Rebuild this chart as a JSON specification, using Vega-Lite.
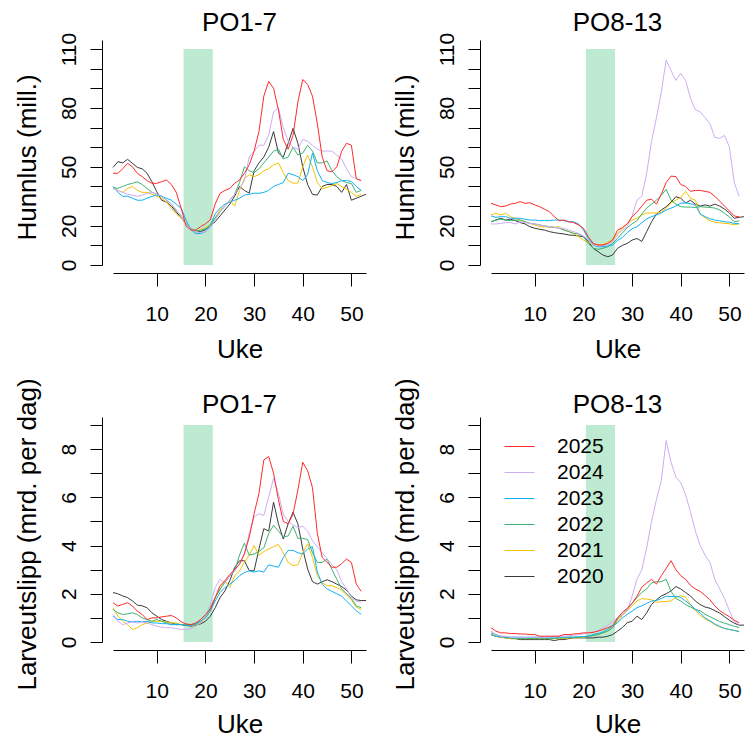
{
"$schema":"https://vega.github.io/schema/vega-lite/v6.json",
"autosize":{"type":"none"},
"padding":{"left":113,"top":40,"right":632,"bottom":698},
"background":"white",
"columns":2,
"spacing":{"row":152,"column":125},
"bounds":"flush",
"resolve":{"scale":{"color":"independent","x":"independent","y":"independent"},"legend":{"color":"independent"}},
"config":{
 "view":{"stroke":null},
 "font":"Liberation Sans",
 "axis":{"grid":false,"domainColor":"#000","tickColor":"#000","labelColor":"#000","titleColor":"#000","labelFont":"Liberation Sans","titleFont":"Liberation Sans","labelFontSize":21,"titleFontSize":26,"titleFontWeight":"normal","domainWidth":1,"tickWidth":1,"labelFlush":false,"labelOverlap":false},
 "title":{"font":"Liberation Sans","fontSize":26,"fontWeight":"normal","color":"#000","anchor":"middle","frame":"group","baseline":"alphabetic"}
},
"datasets":{
"hl":[
{"y":2020,"w":1,"v":49.7},{"y":2020,"w":2,"v":52.6},{"y":2020,"w":3,"v":52},{"y":2020,"w":4,"v":53.8},{"y":2020,"w":5,"v":51.8},{"y":2020,"w":6,"v":49.7},{"y":2020,"w":7,"v":49},{"y":2020,"w":8,"v":46.7},{"y":2020,"w":9,"v":42.4},{"y":2020,"w":10,"v":37.3},{"y":2020,"w":11,"v":33},{"y":2020,"w":12,"v":32},{"y":2020,"w":13,"v":30},{"y":2020,"w":14,"v":27},{"y":2020,"w":15,"v":24},{"y":2020,"w":16,"v":21},{"y":2020,"w":17,"v":18.5},{"y":2020,"w":18,"v":17},{"y":2020,"w":19,"v":17},{"y":2020,"w":20,"v":18},{"y":2020,"w":21,"v":20},{"y":2020,"w":22,"v":22},{"y":2020,"w":23,"v":25},{"y":2020,"w":24,"v":28},{"y":2020,"w":25,"v":31},{"y":2020,"w":26,"v":35},{"y":2020,"w":27,"v":40},{"y":2020,"w":28,"v":38},{"y":2020,"w":29,"v":36.6},{"y":2020,"w":30,"v":48},{"y":2020,"w":31,"v":52},{"y":2020,"w":32,"v":55},{"y":2020,"w":33,"v":60},{"y":2020,"w":34,"v":68},{"y":2020,"w":35,"v":57},{"y":2020,"w":36,"v":55},{"y":2020,"w":37,"v":62},{"y":2020,"w":38,"v":69.6},{"y":2020,"w":39,"v":62},{"y":2020,"w":40,"v":50},{"y":2020,"w":41,"v":41},{"y":2020,"w":42,"v":36},{"y":2020,"w":43,"v":35.6},{"y":2020,"w":44,"v":40},{"y":2020,"w":45,"v":41},{"y":2020,"w":46,"v":41},{"y":2020,"w":47,"v":40},{"y":2020,"w":48,"v":37},{"y":2020,"w":49,"v":41},{"y":2020,"w":50,"v":33},{"y":2020,"w":51,"v":34},{"y":2020,"w":52,"v":35},{"y":2020,"w":53,"v":36},
{"y":2021,"w":1,"v":39},{"y":2021,"w":2,"v":38},{"y":2021,"w":3,"v":37},{"y":2021,"w":4,"v":39},{"y":2021,"w":5,"v":40},{"y":2021,"w":6,"v":38},{"y":2021,"w":7,"v":37},{"y":2021,"w":8,"v":37},{"y":2021,"w":9,"v":36},{"y":2021,"w":10,"v":35},{"y":2021,"w":11,"v":34},{"y":2021,"w":12,"v":32},{"y":2021,"w":13,"v":29},{"y":2021,"w":14,"v":26},{"y":2021,"w":15,"v":24},{"y":2021,"w":16,"v":21},{"y":2021,"w":17,"v":18},{"y":2021,"w":18,"v":17},{"y":2021,"w":19,"v":18},{"y":2021,"w":20,"v":19},{"y":2021,"w":21,"v":21},{"y":2021,"w":22,"v":24},{"y":2021,"w":23,"v":28},{"y":2021,"w":24,"v":30},{"y":2021,"w":25,"v":33},{"y":2021,"w":26,"v":30},{"y":2021,"w":27,"v":38},{"y":2021,"w":28,"v":44},{"y":2021,"w":29,"v":46},{"y":2021,"w":30,"v":45},{"y":2021,"w":31,"v":46},{"y":2021,"w":32,"v":48},{"y":2021,"w":33,"v":49},{"y":2021,"w":34,"v":51},{"y":2021,"w":35,"v":52},{"y":2021,"w":36,"v":47},{"y":2021,"w":37,"v":43},{"y":2021,"w":38,"v":41.7},{"y":2021,"w":39,"v":41.7},{"y":2021,"w":40,"v":50},{"y":2021,"w":41,"v":56},{"y":2021,"w":42,"v":50},{"y":2021,"w":43,"v":42},{"y":2021,"w":44,"v":39},{"y":2021,"w":45,"v":39.5},{"y":2021,"w":46,"v":40.5},{"y":2021,"w":47,"v":41.5},{"y":2021,"w":48,"v":40},{"y":2021,"w":49,"v":38.5},{"y":2021,"w":50,"v":37},{"y":2021,"w":51,"v":35},{"y":2021,"w":52,"v":36},
{"y":2022,"w":1,"v":39.5},{"y":2022,"w":2,"v":39},{"y":2022,"w":3,"v":40},{"y":2022,"w":4,"v":41},{"y":2022,"w":5,"v":41.6},{"y":2022,"w":6,"v":42.4},{"y":2022,"w":7,"v":41},{"y":2022,"w":8,"v":39},{"y":2022,"w":9,"v":37},{"y":2022,"w":10,"v":36},{"y":2022,"w":11,"v":35},{"y":2022,"w":12,"v":33},{"y":2022,"w":13,"v":31},{"y":2022,"w":14,"v":28},{"y":2022,"w":15,"v":25},{"y":2022,"w":16,"v":21},{"y":2022,"w":17,"v":18.5},{"y":2022,"w":18,"v":17.5},{"y":2022,"w":19,"v":17.5},{"y":2022,"w":20,"v":18.5},{"y":2022,"w":21,"v":20},{"y":2022,"w":22,"v":24},{"y":2022,"w":23,"v":27},{"y":2022,"w":24,"v":30},{"y":2022,"w":25,"v":33},{"y":2022,"w":26,"v":36},{"y":2022,"w":27,"v":42},{"y":2022,"w":28,"v":50},{"y":2022,"w":29,"v":48},{"y":2022,"w":30,"v":47},{"y":2022,"w":31,"v":49},{"y":2022,"w":32,"v":52},{"y":2022,"w":33,"v":55},{"y":2022,"w":34,"v":58},{"y":2022,"w":35,"v":59},{"y":2022,"w":36,"v":54},{"y":2022,"w":37,"v":55},{"y":2022,"w":38,"v":60},{"y":2022,"w":39,"v":56},{"y":2022,"w":40,"v":57},{"y":2022,"w":41,"v":61},{"y":2022,"w":42,"v":58},{"y":2022,"w":43,"v":52},{"y":2022,"w":44,"v":52},{"y":2022,"w":45,"v":53},{"y":2022,"w":46,"v":48},{"y":2022,"w":47,"v":45},{"y":2022,"w":48,"v":43},{"y":2022,"w":49,"v":42},{"y":2022,"w":50,"v":41.5},{"y":2022,"w":51,"v":37},{"y":2022,"w":52,"v":38},
{"y":2023,"w":1,"v":40},{"y":2023,"w":2,"v":37},{"y":2023,"w":3,"v":35},{"y":2023,"w":4,"v":35},{"y":2023,"w":5,"v":34},{"y":2023,"w":6,"v":33},{"y":2023,"w":7,"v":33},{"y":2023,"w":8,"v":34},{"y":2023,"w":9,"v":35},{"y":2023,"w":10,"v":35.6},{"y":2023,"w":11,"v":35},{"y":2023,"w":12,"v":34},{"y":2023,"w":13,"v":33},{"y":2023,"w":14,"v":31},{"y":2023,"w":15,"v":29},{"y":2023,"w":16,"v":23},{"y":2023,"w":17,"v":18},{"y":2023,"w":18,"v":16},{"y":2023,"w":19,"v":16},{"y":2023,"w":20,"v":17},{"y":2023,"w":21,"v":20},{"y":2023,"w":22,"v":26},{"y":2023,"w":23,"v":29},{"y":2023,"w":24,"v":31},{"y":2023,"w":25,"v":32},{"y":2023,"w":26,"v":33},{"y":2023,"w":27,"v":34},{"y":2023,"w":28,"v":35.6},{"y":2023,"w":29,"v":36},{"y":2023,"w":30,"v":36.6},{"y":2023,"w":31,"v":36.5},{"y":2023,"w":32,"v":37},{"y":2023,"w":33,"v":38},{"y":2023,"w":34,"v":40},{"y":2023,"w":35,"v":41},{"y":2023,"w":36,"v":42},{"y":2023,"w":37,"v":46.7},{"y":2023,"w":38,"v":46},{"y":2023,"w":39,"v":45},{"y":2023,"w":40,"v":43},{"y":2023,"w":41,"v":46},{"y":2023,"w":42,"v":57},{"y":2023,"w":43,"v":48},{"y":2023,"w":44,"v":43},{"y":2023,"w":45,"v":42},{"y":2023,"w":46,"v":41.5},{"y":2023,"w":47,"v":42},{"y":2023,"w":48,"v":43},{"y":2023,"w":49,"v":43},{"y":2023,"w":50,"v":42.5},{"y":2023,"w":51,"v":40},{"y":2023,"w":52,"v":38},
{"y":2024,"w":1,"v":39},{"y":2024,"w":2,"v":38},{"y":2024,"w":3,"v":37},{"y":2024,"w":4,"v":36},{"y":2024,"w":5,"v":35.5},{"y":2024,"w":6,"v":35},{"y":2024,"w":7,"v":35.5},{"y":2024,"w":8,"v":36.5},{"y":2024,"w":9,"v":37},{"y":2024,"w":10,"v":36},{"y":2024,"w":11,"v":35},{"y":2024,"w":12,"v":33},{"y":2024,"w":13,"v":31},{"y":2024,"w":14,"v":28},{"y":2024,"w":15,"v":25},{"y":2024,"w":16,"v":21},{"y":2024,"w":17,"v":18.5},{"y":2024,"w":18,"v":17},{"y":2024,"w":19,"v":16.5},{"y":2024,"w":20,"v":17},{"y":2024,"w":21,"v":19},{"y":2024,"w":22,"v":23},{"y":2024,"w":23,"v":27},{"y":2024,"w":24,"v":30},{"y":2024,"w":25,"v":33},{"y":2024,"w":26,"v":36},{"y":2024,"w":27,"v":39},{"y":2024,"w":28,"v":43},{"y":2024,"w":29,"v":55},{"y":2024,"w":30,"v":58},{"y":2024,"w":31,"v":61},{"y":2024,"w":32,"v":61},{"y":2024,"w":33,"v":66},{"y":2024,"w":34,"v":78},{"y":2024,"w":35,"v":80},{"y":2024,"w":36,"v":70},{"y":2024,"w":37,"v":63},{"y":2024,"w":38,"v":60},{"y":2024,"w":39,"v":59},{"y":2024,"w":40,"v":64},{"y":2024,"w":41,"v":63},{"y":2024,"w":42,"v":61},{"y":2024,"w":43,"v":59},{"y":2024,"w":44,"v":58},{"y":2024,"w":45,"v":58},{"y":2024,"w":46,"v":58},{"y":2024,"w":47,"v":56},{"y":2024,"w":48,"v":54},{"y":2024,"w":49,"v":49},{"y":2024,"w":50,"v":45},{"y":2024,"w":51,"v":44},{"y":2024,"w":52,"v":43},
{"y":2025,"w":1,"v":46.7},{"y":2025,"w":2,"v":46.7},{"y":2025,"w":3,"v":49},{"y":2025,"w":4,"v":51.8},{"y":2025,"w":5,"v":50},{"y":2025,"w":6,"v":46.7},{"y":2025,"w":7,"v":45},{"y":2025,"w":8,"v":43},{"y":2025,"w":9,"v":41.6},{"y":2025,"w":10,"v":41.6},{"y":2025,"w":11,"v":42.4},{"y":2025,"w":12,"v":43.3},{"y":2025,"w":13,"v":41},{"y":2025,"w":14,"v":37},{"y":2025,"w":15,"v":29},{"y":2025,"w":16,"v":20},{"y":2025,"w":17,"v":17.8},{"y":2025,"w":18,"v":17.8},{"y":2025,"w":19,"v":19.5},{"y":2025,"w":20,"v":21},{"y":2025,"w":21,"v":23},{"y":2025,"w":22,"v":31},{"y":2025,"w":23,"v":36.5},{"y":2025,"w":24,"v":38},{"y":2025,"w":25,"v":39},{"y":2025,"w":26,"v":41.6},{"y":2025,"w":27,"v":43.3},{"y":2025,"w":28,"v":46.7},{"y":2025,"w":29,"v":51},{"y":2025,"w":30,"v":58},{"y":2025,"w":31,"v":68},{"y":2025,"w":32,"v":86},{"y":2025,"w":33,"v":93.5},{"y":2025,"w":34,"v":90},{"y":2025,"w":35,"v":79},{"y":2025,"w":36,"v":64},{"y":2025,"w":37,"v":59},{"y":2025,"w":38,"v":66},{"y":2025,"w":39,"v":83},{"y":2025,"w":40,"v":94.5},{"y":2025,"w":41,"v":92},{"y":2025,"w":42,"v":86},{"y":2025,"w":43,"v":72},{"y":2025,"w":44,"v":55},{"y":2025,"w":45,"v":48},{"y":2025,"w":46,"v":47.5},{"y":2025,"w":47,"v":50},{"y":2025,"w":48,"v":58},{"y":2025,"w":49,"v":62},{"y":2025,"w":50,"v":61},{"y":2025,"w":51,"v":44},{"y":2025,"w":52,"v":43}
],
"hr":[
{"y":2020,"w":1,"v":22},{"y":2020,"w":2,"v":22.9},{"y":2020,"w":3,"v":23.8},{"y":2020,"w":4,"v":22.9},{"y":2020,"w":5,"v":23.3},{"y":2020,"w":6,"v":22.6},{"y":2020,"w":7,"v":21.6},{"y":2020,"w":8,"v":20.9},{"y":2020,"w":9,"v":19.5},{"y":2020,"w":10,"v":18.7},{"y":2020,"w":11,"v":18.2},{"y":2020,"w":12,"v":17.8},{"y":2020,"w":13,"v":17},{"y":2020,"w":14,"v":16.5},{"y":2020,"w":15,"v":16.1},{"y":2020,"w":16,"v":15.8},{"y":2020,"w":17,"v":15.3},{"y":2020,"w":18,"v":15.1},{"y":2020,"w":19,"v":14.8},{"y":2020,"w":20,"v":14.4},{"y":2020,"w":21,"v":11.9},{"y":2020,"w":22,"v":8.5},{"y":2020,"w":23,"v":6.8},{"y":2020,"w":24,"v":5.1},{"y":2020,"w":25,"v":4.2},{"y":2020,"w":26,"v":5.1},{"y":2020,"w":27,"v":8.5},{"y":2020,"w":28,"v":10},{"y":2020,"w":29,"v":11},{"y":2020,"w":30,"v":12.7},{"y":2020,"w":31,"v":13.5},{"y":2020,"w":32,"v":12},{"y":2020,"w":33,"v":17},{"y":2020,"w":34,"v":22},{"y":2020,"w":35,"v":26},{"y":2020,"w":36,"v":28},{"y":2020,"w":37,"v":29.7},{"y":2020,"w":38,"v":32},{"y":2020,"w":39,"v":34.8},{"y":2020,"w":40,"v":34},{"y":2020,"w":41,"v":31.6},{"y":2020,"w":42,"v":33},{"y":2020,"w":43,"v":31},{"y":2020,"w":44,"v":30},{"y":2020,"w":45,"v":30.6},{"y":2020,"w":46,"v":30},{"y":2020,"w":47,"v":31},{"y":2020,"w":48,"v":30},{"y":2020,"w":49,"v":28.5},{"y":2020,"w":50,"v":26.5},{"y":2020,"w":51,"v":23.8},{"y":2020,"w":52,"v":24.3},{"y":2020,"w":53,"v":24.6},
{"y":2021,"w":1,"v":25.5},{"y":2021,"w":2,"v":26.3},{"y":2021,"w":3,"v":25.5},{"y":2021,"w":4,"v":26.3},{"y":2021,"w":5,"v":24.6},{"y":2021,"w":6,"v":23.8},{"y":2021,"w":7,"v":22.9},{"y":2021,"w":8,"v":22},{"y":2021,"w":9,"v":21.2},{"y":2021,"w":10,"v":20.4},{"y":2021,"w":11,"v":19.5},{"y":2021,"w":12,"v":19.5},{"y":2021,"w":13,"v":19.2},{"y":2021,"w":14,"v":19.2},{"y":2021,"w":15,"v":19.5},{"y":2021,"w":16,"v":17.8},{"y":2021,"w":17,"v":17},{"y":2021,"w":18,"v":16.1},{"y":2021,"w":19,"v":14.4},{"y":2021,"w":20,"v":12.7},{"y":2021,"w":21,"v":11.4},{"y":2021,"w":22,"v":10.7},{"y":2021,"w":23,"v":10.2},{"y":2021,"w":24,"v":10.5},{"y":2021,"w":25,"v":11.4},{"y":2021,"w":26,"v":13.1},{"y":2021,"w":27,"v":16.1},{"y":2021,"w":28,"v":18.7},{"y":2021,"w":29,"v":20.9},{"y":2021,"w":30,"v":22.9},{"y":2021,"w":31,"v":23.8},{"y":2021,"w":32,"v":25.5},{"y":2021,"w":33,"v":26.5},{"y":2021,"w":34,"v":26.5},{"y":2021,"w":35,"v":26.5},{"y":2021,"w":36,"v":27},{"y":2021,"w":37,"v":28.9},{"y":2021,"w":38,"v":31.6},{"y":2021,"w":39,"v":33},{"y":2021,"w":40,"v":34.5},{"y":2021,"w":41,"v":37.5},{"y":2021,"w":42,"v":34},{"y":2021,"w":43,"v":33},{"y":2021,"w":44,"v":26},{"y":2021,"w":45,"v":24},{"y":2021,"w":46,"v":22.5},{"y":2021,"w":47,"v":21.8},{"y":2021,"w":48,"v":21.5},{"y":2021,"w":49,"v":21.2},{"y":2021,"w":50,"v":21},{"y":2021,"w":51,"v":20.5},{"y":2021,"w":52,"v":21},
{"y":2022,"w":1,"v":22},{"y":2022,"w":2,"v":22.9},{"y":2022,"w":3,"v":23.3},{"y":2022,"w":4,"v":22.9},{"y":2022,"w":5,"v":22.6},{"y":2022,"w":6,"v":22.9},{"y":2022,"w":7,"v":22.9},{"y":2022,"w":8,"v":22},{"y":2022,"w":9,"v":21.2},{"y":2022,"w":10,"v":20.9},{"y":2022,"w":11,"v":20.4},{"y":2022,"w":12,"v":19.9},{"y":2022,"w":13,"v":19.5},{"y":2022,"w":14,"v":19.2},{"y":2022,"w":15,"v":18.7},{"y":2022,"w":16,"v":17.8},{"y":2022,"w":17,"v":17},{"y":2022,"w":18,"v":16.1},{"y":2022,"w":19,"v":15.8},{"y":2022,"w":20,"v":14.4},{"y":2022,"w":21,"v":11},{"y":2022,"w":22,"v":8.5},{"y":2022,"w":23,"v":8},{"y":2022,"w":24,"v":8.5},{"y":2022,"w":25,"v":9.3},{"y":2022,"w":26,"v":11},{"y":2022,"w":27,"v":13.6},{"y":2022,"w":28,"v":16.3},{"y":2022,"w":29,"v":19},{"y":2022,"w":30,"v":21},{"y":2022,"w":31,"v":22.5},{"y":2022,"w":32,"v":26},{"y":2022,"w":33,"v":29},{"y":2022,"w":34,"v":31},{"y":2022,"w":35,"v":33},{"y":2022,"w":36,"v":35.5},{"y":2022,"w":37,"v":38.5},{"y":2022,"w":38,"v":33},{"y":2022,"w":39,"v":31},{"y":2022,"w":40,"v":29.7},{"y":2022,"w":41,"v":29.5},{"y":2022,"w":42,"v":29.5},{"y":2022,"w":43,"v":29.3},{"y":2022,"w":44,"v":29.7},{"y":2022,"w":45,"v":29.5},{"y":2022,"w":46,"v":29.3},{"y":2022,"w":47,"v":29},{"y":2022,"w":48,"v":28},{"y":2022,"w":49,"v":26.3},{"y":2022,"w":50,"v":24.5},{"y":2022,"w":51,"v":22},{"y":2022,"w":52,"v":22.5},
{"y":2023,"w":1,"v":25},{"y":2023,"w":2,"v":24.3},{"y":2023,"w":3,"v":24.6},{"y":2023,"w":4,"v":24.6},{"y":2023,"w":5,"v":23.8},{"y":2023,"w":6,"v":23.8},{"y":2023,"w":7,"v":23.8},{"y":2023,"w":8,"v":23.3},{"y":2023,"w":9,"v":22.9},{"y":2023,"w":10,"v":22.9},{"y":2023,"w":11,"v":22.6},{"y":2023,"w":12,"v":22.6},{"y":2023,"w":13,"v":22.6},{"y":2023,"w":14,"v":22.9},{"y":2023,"w":15,"v":22.9},{"y":2023,"w":16,"v":22.6},{"y":2023,"w":17,"v":22},{"y":2023,"w":18,"v":22},{"y":2023,"w":19,"v":20.9},{"y":2023,"w":20,"v":17.8},{"y":2023,"w":21,"v":13.6},{"y":2023,"w":22,"v":10.2},{"y":2023,"w":23,"v":9.3},{"y":2023,"w":24,"v":9.3},{"y":2023,"w":25,"v":9.7},{"y":2023,"w":26,"v":10.2},{"y":2023,"w":27,"v":12.5},{"y":2023,"w":28,"v":14},{"y":2023,"w":29,"v":16.5},{"y":2023,"w":30,"v":18.5},{"y":2023,"w":31,"v":19.5},{"y":2023,"w":32,"v":21.5},{"y":2023,"w":33,"v":23.5},{"y":2023,"w":34,"v":24.6},{"y":2023,"w":35,"v":25.5},{"y":2023,"w":36,"v":26.5},{"y":2023,"w":37,"v":28},{"y":2023,"w":38,"v":29},{"y":2023,"w":39,"v":30},{"y":2023,"w":40,"v":31.5},{"y":2023,"w":41,"v":31.6},{"y":2023,"w":42,"v":31.2},{"y":2023,"w":43,"v":30.5},{"y":2023,"w":44,"v":26},{"y":2023,"w":45,"v":24.6},{"y":2023,"w":46,"v":23.5},{"y":2023,"w":47,"v":22.9},{"y":2023,"w":48,"v":22.5},{"y":2023,"w":49,"v":22},{"y":2023,"w":50,"v":21.8},{"y":2023,"w":51,"v":21.2},{"y":2023,"w":52,"v":21},
{"y":2024,"w":1,"v":20.9},{"y":2024,"w":2,"v":20.9},{"y":2024,"w":3,"v":21.2},{"y":2024,"w":4,"v":21.6},{"y":2024,"w":5,"v":21.6},{"y":2024,"w":6,"v":20.9},{"y":2024,"w":7,"v":22},{"y":2024,"w":8,"v":21.6},{"y":2024,"w":9,"v":21.2},{"y":2024,"w":10,"v":20.9},{"y":2024,"w":11,"v":20.4},{"y":2024,"w":12,"v":19.9},{"y":2024,"w":13,"v":19.5},{"y":2024,"w":14,"v":19.2},{"y":2024,"w":15,"v":18.7},{"y":2024,"w":16,"v":18.7},{"y":2024,"w":17,"v":17.8},{"y":2024,"w":18,"v":17},{"y":2024,"w":19,"v":16.1},{"y":2024,"w":20,"v":14.8},{"y":2024,"w":21,"v":12.7},{"y":2024,"w":22,"v":10.2},{"y":2024,"w":23,"v":9.7},{"y":2024,"w":24,"v":9.9},{"y":2024,"w":25,"v":10.2},{"y":2024,"w":26,"v":11.9},{"y":2024,"w":27,"v":15.3},{"y":2024,"w":28,"v":17.8},{"y":2024,"w":29,"v":19.5},{"y":2024,"w":30,"v":25},{"y":2024,"w":31,"v":33},{"y":2024,"w":32,"v":35},{"y":2024,"w":33,"v":46.8},{"y":2024,"w":34,"v":63},{"y":2024,"w":35,"v":75},{"y":2024,"w":36,"v":88},{"y":2024,"w":37,"v":104.4},{"y":2024,"w":38,"v":99},{"y":2024,"w":39,"v":94},{"y":2024,"w":40,"v":97.6},{"y":2024,"w":41,"v":94},{"y":2024,"w":42,"v":85},{"y":2024,"w":43,"v":79},{"y":2024,"w":44,"v":78},{"y":2024,"w":45,"v":75},{"y":2024,"w":46,"v":72},{"y":2024,"w":47,"v":65},{"y":2024,"w":48,"v":64.5},{"y":2024,"w":49,"v":66},{"y":2024,"w":50,"v":60},{"y":2024,"w":51,"v":42},{"y":2024,"w":52,"v":35},
{"y":2025,"w":1,"v":31.4},{"y":2025,"w":2,"v":30.6},{"y":2025,"w":3,"v":29.7},{"y":2025,"w":4,"v":30},{"y":2025,"w":5,"v":31},{"y":2025,"w":6,"v":31.4},{"y":2025,"w":7,"v":32.3},{"y":2025,"w":8,"v":31.4},{"y":2025,"w":9,"v":31.7},{"y":2025,"w":10,"v":30.6},{"y":2025,"w":11,"v":29.7},{"y":2025,"w":12,"v":28.4},{"y":2025,"w":13,"v":27.2},{"y":2025,"w":14,"v":24.6},{"y":2025,"w":15,"v":22.6},{"y":2025,"w":16,"v":22.9},{"y":2025,"w":17,"v":22},{"y":2025,"w":18,"v":21.6},{"y":2025,"w":19,"v":20.4},{"y":2025,"w":20,"v":18.7},{"y":2025,"w":21,"v":14.4},{"y":2025,"w":22,"v":11},{"y":2025,"w":23,"v":10.2},{"y":2025,"w":24,"v":10.2},{"y":2025,"w":25,"v":11},{"y":2025,"w":26,"v":12.7},{"y":2025,"w":27,"v":17.8},{"y":2025,"w":28,"v":19},{"y":2025,"w":29,"v":21},{"y":2025,"w":30,"v":24.6},{"y":2025,"w":31,"v":27},{"y":2025,"w":32,"v":30},{"y":2025,"w":33,"v":33},{"y":2025,"w":34,"v":33.5},{"y":2025,"w":35,"v":31},{"y":2025,"w":36,"v":36},{"y":2025,"w":37,"v":42},{"y":2025,"w":38,"v":45.3},{"y":2025,"w":39,"v":45},{"y":2025,"w":40,"v":41},{"y":2025,"w":41,"v":40},{"y":2025,"w":42,"v":37.5},{"y":2025,"w":43,"v":38},{"y":2025,"w":44,"v":38},{"y":2025,"w":45,"v":37.5},{"y":2025,"w":46,"v":37},{"y":2025,"w":47,"v":35},{"y":2025,"w":48,"v":32.5},{"y":2025,"w":49,"v":30},{"y":2025,"w":50,"v":27.5},{"y":2025,"w":51,"v":25},{"y":2025,"w":52,"v":24.5}
],
"ll":[
{"y":2020,"w":1,"v":2.05},{"y":2020,"w":2,"v":2.0},{"y":2020,"w":3,"v":1.91},{"y":2020,"w":4,"v":1.84},{"y":2020,"w":5,"v":1.7},{"y":2020,"w":6,"v":1.53},{"y":2020,"w":7,"v":1.5},{"y":2020,"w":8,"v":1.42},{"y":2020,"w":9,"v":1.21},{"y":2020,"w":10,"v":1.07},{"y":2020,"w":11,"v":0.93},{"y":2020,"w":12,"v":0.86},{"y":2020,"w":13,"v":0.79},{"y":2020,"w":14,"v":0.72},{"y":2020,"w":15,"v":0.72},{"y":2020,"w":16,"v":0.69},{"y":2020,"w":17,"v":0.66},{"y":2020,"w":18,"v":0.69},{"y":2020,"w":19,"v":0.75},{"y":2020,"w":20,"v":0.86},{"y":2020,"w":21,"v":1.07},{"y":2020,"w":22,"v":1.42},{"y":2020,"w":23,"v":1.84},{"y":2020,"w":24,"v":2.12},{"y":2020,"w":25,"v":2.54},{"y":2020,"w":26,"v":3.09},{"y":2020,"w":27,"v":3.37},{"y":2020,"w":28,"v":3.37},{"y":2020,"w":29,"v":2.96},{"y":2020,"w":30,"v":2.95},{"y":2020,"w":31,"v":3.86},{"y":2020,"w":32,"v":4.7},{"y":2020,"w":33,"v":4.6},{"y":2020,"w":34,"v":5.8},{"y":2020,"w":35,"v":4.9},{"y":2020,"w":36,"v":4.27},{"y":2020,"w":37,"v":4.9},{"y":2020,"w":38,"v":5.38},{"y":2020,"w":39,"v":4.9},{"y":2020,"w":40,"v":3.86},{"y":2020,"w":41,"v":3.03},{"y":2020,"w":42,"v":2.5},{"y":2020,"w":43,"v":2.4},{"y":2020,"w":44,"v":2.5},{"y":2020,"w":45,"v":2.58},{"y":2020,"w":46,"v":2.5},{"y":2020,"w":47,"v":2.4},{"y":2020,"w":48,"v":2.3},{"y":2020,"w":49,"v":2.15},{"y":2020,"w":50,"v":1.9},{"y":2020,"w":51,"v":1.75},{"y":2020,"w":52,"v":1.72},{"y":2020,"w":53,"v":1.72},
{"y":2021,"w":1,"v":1.42},{"y":2021,"w":2,"v":1.07},{"y":2021,"w":3,"v":0.86},{"y":2021,"w":4,"v":0.72},{"y":2021,"w":5,"v":0.52},{"y":2021,"w":6,"v":0.59},{"y":2021,"w":7,"v":0.72},{"y":2021,"w":8,"v":0.79},{"y":2021,"w":9,"v":0.86},{"y":2021,"w":10,"v":0.86},{"y":2021,"w":11,"v":0.86},{"y":2021,"w":12,"v":0.83},{"y":2021,"w":13,"v":0.79},{"y":2021,"w":14,"v":0.79},{"y":2021,"w":15,"v":0.72},{"y":2021,"w":16,"v":0.72},{"y":2021,"w":17,"v":0.7},{"y":2021,"w":18,"v":0.66},{"y":2021,"w":19,"v":0.79},{"y":2021,"w":20,"v":1.0},{"y":2021,"w":21,"v":1.28},{"y":2021,"w":22,"v":1.84},{"y":2021,"w":23,"v":2.19},{"y":2021,"w":24,"v":2.54},{"y":2021,"w":25,"v":2.26},{"y":2021,"w":26,"v":2.75},{"y":2021,"w":27,"v":2.95},{"y":2021,"w":28,"v":3.3},{"y":2021,"w":29,"v":3.6},{"y":2021,"w":30,"v":4.0},{"y":2021,"w":31,"v":3.6},{"y":2021,"w":32,"v":3.75},{"y":2021,"w":33,"v":3.86},{"y":2021,"w":34,"v":3.95},{"y":2021,"w":35,"v":4.05},{"y":2021,"w":36,"v":3.7},{"y":2021,"w":37,"v":3.3},{"y":2021,"w":38,"v":3.17},{"y":2021,"w":39,"v":3.2},{"y":2021,"w":40,"v":3.7},{"y":2021,"w":41,"v":4.07},{"y":2021,"w":42,"v":3.5},{"y":2021,"w":43,"v":2.75},{"y":2021,"w":44,"v":2.45},{"y":2021,"w":45,"v":2.34},{"y":2021,"w":46,"v":2.33},{"y":2021,"w":47,"v":2.26},{"y":2021,"w":48,"v":2.15},{"y":2021,"w":49,"v":1.95},{"y":2021,"w":50,"v":1.75},{"y":2021,"w":51,"v":1.45},{"y":2021,"w":52,"v":1.35},
{"y":2022,"w":1,"v":1.35},{"y":2022,"w":2,"v":1.21},{"y":2022,"w":3,"v":1.14},{"y":2022,"w":4,"v":1.17},{"y":2022,"w":5,"v":1.21},{"y":2022,"w":6,"v":1.14},{"y":2022,"w":7,"v":1.0},{"y":2022,"w":8,"v":0.93},{"y":2022,"w":9,"v":0.86},{"y":2022,"w":10,"v":0.93},{"y":2022,"w":11,"v":0.86},{"y":2022,"w":12,"v":0.79},{"y":2022,"w":13,"v":0.72},{"y":2022,"w":14,"v":0.75},{"y":2022,"w":15,"v":0.72},{"y":2022,"w":16,"v":0.72},{"y":2022,"w":17,"v":0.7},{"y":2022,"w":18,"v":0.72},{"y":2022,"w":19,"v":0.86},{"y":2022,"w":20,"v":1.07},{"y":2022,"w":21,"v":1.42},{"y":2022,"w":22,"v":1.84},{"y":2022,"w":23,"v":2.19},{"y":2022,"w":24,"v":2.47},{"y":2022,"w":25,"v":2.75},{"y":2022,"w":26,"v":2.95},{"y":2022,"w":27,"v":3.6},{"y":2022,"w":28,"v":4.1},{"y":2022,"w":29,"v":3.6},{"y":2022,"w":30,"v":3.65},{"y":2022,"w":31,"v":3.75},{"y":2022,"w":32,"v":3.9},{"y":2022,"w":33,"v":4.5},{"y":2022,"w":34,"v":4.84},{"y":2022,"w":35,"v":4.6},{"y":2022,"w":36,"v":4.35},{"y":2022,"w":37,"v":4.4},{"y":2022,"w":38,"v":4.8},{"y":2022,"w":39,"v":4.3},{"y":2022,"w":40,"v":4.3},{"y":2022,"w":41,"v":4.25},{"y":2022,"w":42,"v":3.7},{"y":2022,"w":43,"v":3.3},{"y":2022,"w":44,"v":3.3},{"y":2022,"w":45,"v":3.44},{"y":2022,"w":46,"v":3.0},{"y":2022,"w":47,"v":2.6},{"y":2022,"w":48,"v":2.2},{"y":2022,"w":49,"v":2.0},{"y":2022,"w":50,"v":1.8},{"y":2022,"w":51,"v":1.5},{"y":2022,"w":52,"v":1.42},
{"y":2023,"w":1,"v":1.07},{"y":2023,"w":2,"v":0.93},{"y":2023,"w":3,"v":0.93},{"y":2023,"w":4,"v":0.86},{"y":2023,"w":5,"v":0.83},{"y":2023,"w":6,"v":0.86},{"y":2023,"w":7,"v":0.83},{"y":2023,"w":8,"v":0.86},{"y":2023,"w":9,"v":0.79},{"y":2023,"w":10,"v":0.79},{"y":2023,"w":11,"v":0.76},{"y":2023,"w":12,"v":0.76},{"y":2023,"w":13,"v":0.72},{"y":2023,"w":14,"v":0.72},{"y":2023,"w":15,"v":0.72},{"y":2023,"w":16,"v":0.69},{"y":2023,"w":17,"v":0.69},{"y":2023,"w":18,"v":0.76},{"y":2023,"w":19,"v":0.86},{"y":2023,"w":20,"v":1.0},{"y":2023,"w":21,"v":1.28},{"y":2023,"w":22,"v":1.7},{"y":2023,"w":23,"v":2.05},{"y":2023,"w":24,"v":2.26},{"y":2023,"w":25,"v":2.4},{"y":2023,"w":26,"v":2.54},{"y":2023,"w":27,"v":2.75},{"y":2023,"w":28,"v":2.88},{"y":2023,"w":29,"v":2.95},{"y":2023,"w":30,"v":2.9},{"y":2023,"w":31,"v":2.95},{"y":2023,"w":32,"v":2.9},{"y":2023,"w":33,"v":3.2},{"y":2023,"w":34,"v":3.15},{"y":2023,"w":35,"v":3.1},{"y":2023,"w":36,"v":3.5},{"y":2023,"w":37,"v":3.8},{"y":2023,"w":38,"v":3.8},{"y":2023,"w":39,"v":3.7},{"y":2023,"w":40,"v":3.65},{"y":2023,"w":41,"v":3.86},{"y":2023,"w":42,"v":3.95},{"y":2023,"w":43,"v":2.9},{"y":2023,"w":44,"v":2.4},{"y":2023,"w":45,"v":2.2},{"y":2023,"w":46,"v":2.1},{"y":2023,"w":47,"v":2.0},{"y":2023,"w":48,"v":1.9},{"y":2023,"w":49,"v":1.7},{"y":2023,"w":50,"v":1.5},{"y":2023,"w":51,"v":1.3},{"y":2023,"w":52,"v":1.15},
{"y":2024,"w":1,"v":1.14},{"y":2024,"w":2,"v":0.86},{"y":2024,"w":3,"v":0.72},{"y":2024,"w":4,"v":0.79},{"y":2024,"w":5,"v":0.83},{"y":2024,"w":6,"v":0.79},{"y":2024,"w":7,"v":0.83},{"y":2024,"w":8,"v":0.79},{"y":2024,"w":9,"v":0.72},{"y":2024,"w":10,"v":0.66},{"y":2024,"w":11,"v":0.62},{"y":2024,"w":12,"v":0.59},{"y":2024,"w":13,"v":0.59},{"y":2024,"w":14,"v":0.56},{"y":2024,"w":15,"v":0.52},{"y":2024,"w":16,"v":0.52},{"y":2024,"w":17,"v":0.55},{"y":2024,"w":18,"v":0.66},{"y":2024,"w":19,"v":0.79},{"y":2024,"w":20,"v":1.07},{"y":2024,"w":21,"v":1.56},{"y":2024,"w":22,"v":2.26},{"y":2024,"w":23,"v":2.6},{"y":2024,"w":24,"v":2.45},{"y":2024,"w":25,"v":2.75},{"y":2024,"w":26,"v":2.95},{"y":2024,"w":27,"v":3.23},{"y":2024,"w":28,"v":3.65},{"y":2024,"w":29,"v":4.49},{"y":2024,"w":30,"v":5.18},{"y":2024,"w":31,"v":5.32},{"y":2024,"w":32,"v":5.25},{"y":2024,"w":33,"v":6.02},{"y":2024,"w":34,"v":6.79},{"y":2024,"w":35,"v":6.16},{"y":2024,"w":36,"v":5.3},{"y":2024,"w":37,"v":5.0},{"y":2024,"w":38,"v":4.85},{"y":2024,"w":39,"v":4.75},{"y":2024,"w":40,"v":4.8},{"y":2024,"w":41,"v":4.6},{"y":2024,"w":42,"v":4.2},{"y":2024,"w":43,"v":3.95},{"y":2024,"w":44,"v":3.7},{"y":2024,"w":45,"v":3.45},{"y":2024,"w":46,"v":3.2},{"y":2024,"w":47,"v":3.0},{"y":2024,"w":48,"v":2.5},{"y":2024,"w":49,"v":2.2},{"y":2024,"w":50,"v":1.85},{"y":2024,"w":51,"v":1.7},{"y":2024,"w":52,"v":1.65},
{"y":2025,"w":1,"v":1.63},{"y":2025,"w":2,"v":1.49},{"y":2025,"w":3,"v":1.56},{"y":2025,"w":4,"v":1.63},{"y":2025,"w":5,"v":1.49},{"y":2025,"w":6,"v":1.28},{"y":2025,"w":7,"v":1.14},{"y":2025,"w":8,"v":0.93},{"y":2025,"w":9,"v":1.0},{"y":2025,"w":10,"v":1.0},{"y":2025,"w":11,"v":1.04},{"y":2025,"w":12,"v":1.07},{"y":2025,"w":13,"v":1.1},{"y":2025,"w":14,"v":1.0},{"y":2025,"w":15,"v":0.84},{"y":2025,"w":16,"v":0.75},{"y":2025,"w":17,"v":0.72},{"y":2025,"w":18,"v":0.79},{"y":2025,"w":19,"v":0.93},{"y":2025,"w":20,"v":1.14},{"y":2025,"w":21,"v":1.35},{"y":2025,"w":22,"v":1.84},{"y":2025,"w":23,"v":2.33},{"y":2025,"w":24,"v":2.54},{"y":2025,"w":25,"v":2.8},{"y":2025,"w":26,"v":3.0},{"y":2025,"w":27,"v":3.23},{"y":2025,"w":28,"v":3.65},{"y":2025,"w":29,"v":4.35},{"y":2025,"w":30,"v":5.32},{"y":2025,"w":31,"v":6.16},{"y":2025,"w":32,"v":7.55},{"y":2025,"w":33,"v":7.69},{"y":2025,"w":34,"v":7.0},{"y":2025,"w":35,"v":5.9},{"y":2025,"w":36,"v":5.0},{"y":2025,"w":37,"v":4.9},{"y":2025,"w":38,"v":5.3},{"y":2025,"w":39,"v":6.3},{"y":2025,"w":40,"v":7.45},{"y":2025,"w":41,"v":7.1},{"y":2025,"w":42,"v":6.4},{"y":2025,"w":43,"v":4.5},{"y":2025,"w":44,"v":3.5},{"y":2025,"w":45,"v":3.3},{"y":2025,"w":46,"v":3.1},{"y":2025,"w":47,"v":3.1},{"y":2025,"w":48,"v":3.25},{"y":2025,"w":49,"v":3.44},{"y":2025,"w":50,"v":3.3},{"y":2025,"w":51,"v":2.4},{"y":2025,"w":52,"v":2.1}
],
"lr":[
{"y":2020,"w":1,"v":0.31},{"y":2020,"w":2,"v":0.24},{"y":2020,"w":3,"v":0.2},{"y":2020,"w":4,"v":0.17},{"y":2020,"w":5,"v":0.14},{"y":2020,"w":6,"v":0.14},{"y":2020,"w":7,"v":0.1},{"y":2020,"w":8,"v":0.1},{"y":2020,"w":9,"v":0.1},{"y":2020,"w":10,"v":0.1},{"y":2020,"w":11,"v":0.1},{"y":2020,"w":12,"v":0.1},{"y":2020,"w":13,"v":0.1},{"y":2020,"w":14,"v":0.06},{"y":2020,"w":15,"v":0.1},{"y":2020,"w":16,"v":0.1},{"y":2020,"w":17,"v":0.14},{"y":2020,"w":18,"v":0.17},{"y":2020,"w":19,"v":0.17},{"y":2020,"w":20,"v":0.17},{"y":2020,"w":21,"v":0.17},{"y":2020,"w":22,"v":0.17},{"y":2020,"w":23,"v":0.2},{"y":2020,"w":24,"v":0.2},{"y":2020,"w":25,"v":0.24},{"y":2020,"w":26,"v":0.31},{"y":2020,"w":27,"v":0.45},{"y":2020,"w":28,"v":0.6},{"y":2020,"w":29,"v":0.8},{"y":2020,"w":30,"v":0.86},{"y":2020,"w":31,"v":1.07},{"y":2020,"w":32,"v":0.93},{"y":2020,"w":33,"v":1.21},{"y":2020,"w":34,"v":1.56},{"y":2020,"w":35,"v":1.75},{"y":2020,"w":36,"v":1.91},{"y":2020,"w":37,"v":2.0},{"y":2020,"w":38,"v":2.12},{"y":2020,"w":39,"v":2.3},{"y":2020,"w":40,"v":2.2},{"y":2020,"w":41,"v":2.05},{"y":2020,"w":42,"v":1.91},{"y":2020,"w":43,"v":1.7},{"y":2020,"w":44,"v":1.55},{"y":2020,"w":45,"v":1.45},{"y":2020,"w":46,"v":1.4},{"y":2020,"w":47,"v":1.3},{"y":2020,"w":48,"v":1.2},{"y":2020,"w":49,"v":1.05},{"y":2020,"w":50,"v":0.9},{"y":2020,"w":51,"v":0.78},{"y":2020,"w":52,"v":0.7},{"y":2020,"w":53,"v":0.7},
{"y":2021,"w":1,"v":0.31},{"y":2021,"w":2,"v":0.24},{"y":2021,"w":3,"v":0.2},{"y":2021,"w":4,"v":0.17},{"y":2021,"w":5,"v":0.14},{"y":2021,"w":6,"v":0.14},{"y":2021,"w":7,"v":0.14},{"y":2021,"w":8,"v":0.14},{"y":2021,"w":9,"v":0.14},{"y":2021,"w":10,"v":0.14},{"y":2021,"w":11,"v":0.14},{"y":2021,"w":12,"v":0.14},{"y":2021,"w":13,"v":0.14},{"y":2021,"w":14,"v":0.14},{"y":2021,"w":15,"v":0.14},{"y":2021,"w":16,"v":0.14},{"y":2021,"w":17,"v":0.17},{"y":2021,"w":18,"v":0.17},{"y":2021,"w":19,"v":0.17},{"y":2021,"w":20,"v":0.2},{"y":2021,"w":21,"v":0.24},{"y":2021,"w":22,"v":0.28},{"y":2021,"w":23,"v":0.31},{"y":2021,"w":24,"v":0.38},{"y":2021,"w":25,"v":0.45},{"y":2021,"w":26,"v":0.59},{"y":2021,"w":27,"v":0.86},{"y":2021,"w":28,"v":1.1},{"y":2021,"w":29,"v":1.3},{"y":2021,"w":30,"v":1.5},{"y":2021,"w":31,"v":1.7},{"y":2021,"w":32,"v":1.8},{"y":2021,"w":33,"v":1.78},{"y":2021,"w":34,"v":1.75},{"y":2021,"w":35,"v":1.65},{"y":2021,"w":36,"v":1.67},{"y":2021,"w":37,"v":1.68},{"y":2021,"w":38,"v":1.7},{"y":2021,"w":39,"v":1.85},{"y":2021,"w":40,"v":1.92},{"y":2021,"w":41,"v":1.85},{"y":2021,"w":42,"v":1.55},{"y":2021,"w":43,"v":1.3},{"y":2021,"w":44,"v":1.1},{"y":2021,"w":45,"v":0.95},{"y":2021,"w":46,"v":0.85},{"y":2021,"w":47,"v":0.72},{"y":2021,"w":48,"v":0.62},{"y":2021,"w":49,"v":0.56},{"y":2021,"w":50,"v":0.52},{"y":2021,"w":51,"v":0.48},{"y":2021,"w":52,"v":0.45},
{"y":2022,"w":1,"v":0.38},{"y":2022,"w":2,"v":0.31},{"y":2022,"w":3,"v":0.24},{"y":2022,"w":4,"v":0.2},{"y":2022,"w":5,"v":0.17},{"y":2022,"w":6,"v":0.14},{"y":2022,"w":7,"v":0.14},{"y":2022,"w":8,"v":0.14},{"y":2022,"w":9,"v":0.14},{"y":2022,"w":10,"v":0.14},{"y":2022,"w":11,"v":0.14},{"y":2022,"w":12,"v":0.14},{"y":2022,"w":13,"v":0.14},{"y":2022,"w":14,"v":0.14},{"y":2022,"w":15,"v":0.17},{"y":2022,"w":16,"v":0.17},{"y":2022,"w":17,"v":0.2},{"y":2022,"w":18,"v":0.2},{"y":2022,"w":19,"v":0.2},{"y":2022,"w":20,"v":0.22},{"y":2022,"w":21,"v":0.24},{"y":2022,"w":22,"v":0.26},{"y":2022,"w":23,"v":0.31},{"y":2022,"w":24,"v":0.38},{"y":2022,"w":25,"v":0.45},{"y":2022,"w":26,"v":0.59},{"y":2022,"w":27,"v":0.95},{"y":2022,"w":28,"v":1.15},{"y":2022,"w":29,"v":1.35},{"y":2022,"w":30,"v":1.6},{"y":2022,"w":31,"v":1.84},{"y":2022,"w":32,"v":2.06},{"y":2022,"w":33,"v":2.2},{"y":2022,"w":34,"v":2.45},{"y":2022,"w":35,"v":2.5},{"y":2022,"w":36,"v":2.5},{"y":2022,"w":37,"v":2.6},{"y":2022,"w":38,"v":2.1},{"y":2022,"w":39,"v":1.8},{"y":2022,"w":40,"v":1.7},{"y":2022,"w":41,"v":1.55},{"y":2022,"w":42,"v":1.45},{"y":2022,"w":43,"v":1.35},{"y":2022,"w":44,"v":1.3},{"y":2022,"w":45,"v":1.15},{"y":2022,"w":46,"v":1.05},{"y":2022,"w":47,"v":0.95},{"y":2022,"w":48,"v":0.85},{"y":2022,"w":49,"v":0.78},{"y":2022,"w":50,"v":0.72},{"y":2022,"w":51,"v":0.65},{"y":2022,"w":52,"v":0.6},
{"y":2023,"w":1,"v":0.31},{"y":2023,"w":2,"v":0.24},{"y":2023,"w":3,"v":0.22},{"y":2023,"w":4,"v":0.2},{"y":2023,"w":5,"v":0.2},{"y":2023,"w":6,"v":0.2},{"y":2023,"w":7,"v":0.2},{"y":2023,"w":8,"v":0.2},{"y":2023,"w":9,"v":0.2},{"y":2023,"w":10,"v":0.2},{"y":2023,"w":11,"v":0.2},{"y":2023,"w":12,"v":0.2},{"y":2023,"w":13,"v":0.2},{"y":2023,"w":14,"v":0.2},{"y":2023,"w":15,"v":0.2},{"y":2023,"w":16,"v":0.2},{"y":2023,"w":17,"v":0.2},{"y":2023,"w":18,"v":0.2},{"y":2023,"w":19,"v":0.22},{"y":2023,"w":20,"v":0.22},{"y":2023,"w":21,"v":0.25},{"y":2023,"w":22,"v":0.31},{"y":2023,"w":23,"v":0.35},{"y":2023,"w":24,"v":0.42},{"y":2023,"w":25,"v":0.52},{"y":2023,"w":26,"v":0.66},{"y":2023,"w":27,"v":0.79},{"y":2023,"w":28,"v":1.0},{"y":2023,"w":29,"v":1.14},{"y":2023,"w":30,"v":1.28},{"y":2023,"w":31,"v":1.42},{"y":2023,"w":32,"v":1.5},{"y":2023,"w":33,"v":1.6},{"y":2023,"w":34,"v":1.7},{"y":2023,"w":35,"v":1.72},{"y":2023,"w":36,"v":1.8},{"y":2023,"w":37,"v":1.9},{"y":2023,"w":38,"v":1.88},{"y":2023,"w":39,"v":1.9},{"y":2023,"w":40,"v":1.85},{"y":2023,"w":41,"v":1.7},{"y":2023,"w":42,"v":1.55},{"y":2023,"w":43,"v":1.36},{"y":2023,"w":44,"v":1.2},{"y":2023,"w":45,"v":1.0},{"y":2023,"w":46,"v":0.88},{"y":2023,"w":47,"v":0.75},{"y":2023,"w":48,"v":0.65},{"y":2023,"w":49,"v":0.56},{"y":2023,"w":50,"v":0.52},{"y":2023,"w":51,"v":0.48},{"y":2023,"w":52,"v":0.42},
{"y":2024,"w":1,"v":0.45},{"y":2024,"w":2,"v":0.31},{"y":2024,"w":3,"v":0.24},{"y":2024,"w":4,"v":0.24},{"y":2024,"w":5,"v":0.2},{"y":2024,"w":6,"v":0.2},{"y":2024,"w":7,"v":0.2},{"y":2024,"w":8,"v":0.17},{"y":2024,"w":9,"v":0.2},{"y":2024,"w":10,"v":0.2},{"y":2024,"w":11,"v":0.2},{"y":2024,"w":12,"v":0.2},{"y":2024,"w":13,"v":0.22},{"y":2024,"w":14,"v":0.24},{"y":2024,"w":15,"v":0.24},{"y":2024,"w":16,"v":0.24},{"y":2024,"w":17,"v":0.26},{"y":2024,"w":18,"v":0.28},{"y":2024,"w":19,"v":0.31},{"y":2024,"w":20,"v":0.33},{"y":2024,"w":21,"v":0.38},{"y":2024,"w":22,"v":0.42},{"y":2024,"w":23,"v":0.47},{"y":2024,"w":24,"v":0.59},{"y":2024,"w":25,"v":0.7},{"y":2024,"w":26,"v":0.86},{"y":2024,"w":27,"v":1.0},{"y":2024,"w":28,"v":1.15},{"y":2024,"w":29,"v":1.3},{"y":2024,"w":30,"v":1.9},{"y":2024,"w":31,"v":2.6},{"y":2024,"w":32,"v":3.0},{"y":2024,"w":33,"v":3.9},{"y":2024,"w":34,"v":5.0},{"y":2024,"w":35,"v":5.9},{"y":2024,"w":36,"v":6.7},{"y":2024,"w":37,"v":8.35},{"y":2024,"w":38,"v":7.46},{"y":2024,"w":39,"v":6.84},{"y":2024,"w":40,"v":6.6},{"y":2024,"w":41,"v":6.1},{"y":2024,"w":42,"v":5.4},{"y":2024,"w":43,"v":4.6},{"y":2024,"w":44,"v":4.0},{"y":2024,"w":45,"v":3.6},{"y":2024,"w":46,"v":3.3},{"y":2024,"w":47,"v":2.6},{"y":2024,"w":48,"v":2.2},{"y":2024,"w":49,"v":1.8},{"y":2024,"w":50,"v":1.3},{"y":2024,"w":51,"v":0.85},{"y":2024,"w":52,"v":0.72},
{"y":2025,"w":1,"v":0.59},{"y":2025,"w":2,"v":0.45},{"y":2025,"w":3,"v":0.38},{"y":2025,"w":4,"v":0.38},{"y":2025,"w":5,"v":0.35},{"y":2025,"w":6,"v":0.35},{"y":2025,"w":7,"v":0.33},{"y":2025,"w":8,"v":0.33},{"y":2025,"w":9,"v":0.31},{"y":2025,"w":10,"v":0.31},{"y":2025,"w":11,"v":0.24},{"y":2025,"w":12,"v":0.24},{"y":2025,"w":13,"v":0.24},{"y":2025,"w":14,"v":0.24},{"y":2025,"w":15,"v":0.24},{"y":2025,"w":16,"v":0.31},{"y":2025,"w":17,"v":0.31},{"y":2025,"w":18,"v":0.33},{"y":2025,"w":19,"v":0.35},{"y":2025,"w":20,"v":0.38},{"y":2025,"w":21,"v":0.38},{"y":2025,"w":22,"v":0.4},{"y":2025,"w":23,"v":0.45},{"y":2025,"w":24,"v":0.52},{"y":2025,"w":25,"v":0.59},{"y":2025,"w":26,"v":0.68},{"y":2025,"w":27,"v":1.0},{"y":2025,"w":28,"v":1.23},{"y":2025,"w":29,"v":1.4},{"y":2025,"w":30,"v":1.6},{"y":2025,"w":31,"v":1.9},{"y":2025,"w":32,"v":2.27},{"y":2025,"w":33,"v":2.45},{"y":2025,"w":34,"v":2.6},{"y":2025,"w":35,"v":2.4},{"y":2025,"w":36,"v":2.75},{"y":2025,"w":37,"v":3.05},{"y":2025,"w":38,"v":3.37},{"y":2025,"w":39,"v":3.0},{"y":2025,"w":40,"v":2.75},{"y":2025,"w":41,"v":2.6},{"y":2025,"w":42,"v":2.35},{"y":2025,"w":43,"v":2.2},{"y":2025,"w":44,"v":2.1},{"y":2025,"w":45,"v":1.93},{"y":2025,"w":46,"v":1.75},{"y":2025,"w":47,"v":1.5},{"y":2025,"w":48,"v":1.3},{"y":2025,"w":49,"v":1.17},{"y":2025,"w":50,"v":1.05},{"y":2025,"w":51,"v":0.9},{"y":2025,"w":52,"v":0.8}
]
},
"concat":[
{"width":253,"height":225,"title":{"text":"PO1-7","offset":-3.5},
 "resolve":{"axis":{"y":"independent"}},
 "layer":[
  {"data":{"values":[{"a":15.5,"b":21.5,"lo":0,"hi":110}]},"mark":{"type":"rect","color":"#BDEAD1"},
   "encoding":{
    "x":{"field":"a","type":"quantitative","scale":{"domain":[1,53],"nice":false,"zero":false},"axis":{"title":"Uke","values":[10,20,30,40,50],"offset":8,"tickSize":13,"labelPadding":34,"labelBaseline":"alphabetic","labelOverlap":false,"titleY":84,"titleBaseline":"alphabetic"}},
    "x2":{"field":"b"},
    "y":{"field":"lo","type":"quantitative","scale":{"domain":[0,114.6],"nice":false},"axis":{"orient":"left","title":"Hunnlus (mill.)","values":[0,20,50,80,110],"labelOverlap":false,"offset":11,"tickSize":12,"labelAngle":270,"labelAlign":"center","labelBaseline":"alphabetic","labelPadding":15,"titleAngle":270,"titleX":-66.5,"titleY":117,"titleAlign":"center","titleBaseline":"alphabetic"}},
    "y2":{"field":"hi"}}},
  {"data":{"name":"hl"},"mark":{"type":"line","strokeWidth":1},
   "encoding":{"x":{"field":"w","type":"quantitative"},"y":{"field":"v","type":"quantitative","axis":{"orient":"left","values":[10,30,40,60,70,90,100],"labels":false,"domain":false,"title":null,"offset":11,"tickSize":12}},
    "color":{"field":"y","type":"nominal","scale":{"domain":[2025,2024,2023,2022,2021,2020],"range":["#FF2A2A","#D0ACF5","#10B0F5","#3CB371","#F5C200","#3A3A3A"]},"legend":null}}}
 ]},
{"width":253,"height":225,"title":{"text":"PO8-13","offset":-3.5},
 "resolve":{"axis":{"y":"independent"}},
 "layer":[
  {"data":{"values":[{"a":20.5,"b":26.5,"lo":0,"hi":110}]},"mark":{"type":"rect","color":"#BDEAD1"},
   "encoding":{
    "x":{"field":"a","type":"quantitative","scale":{"domain":[1,53],"nice":false,"zero":false},"axis":{"title":"Uke","values":[10,20,30,40,50],"offset":8,"tickSize":13,"labelPadding":34,"labelBaseline":"alphabetic","labelOverlap":false,"titleY":84,"titleBaseline":"alphabetic"}},
    "x2":{"field":"b"},
    "y":{"field":"lo","type":"quantitative","scale":{"domain":[0,114.6],"nice":false},"axis":{"orient":"left","title":"Hunnlus (mill.)","values":[0,20,50,80,110],"labelOverlap":false,"offset":11,"tickSize":12,"labelAngle":270,"labelAlign":"center","labelBaseline":"alphabetic","labelPadding":15,"titleAngle":270,"titleX":-66.5,"titleY":117,"titleAlign":"center","titleBaseline":"alphabetic"}},
    "y2":{"field":"hi"}}},
  {"data":{"name":"hr"},"mark":{"type":"line","strokeWidth":1},
   "encoding":{"x":{"field":"w","type":"quantitative"},"y":{"field":"v","type":"quantitative","axis":{"orient":"left","values":[10,30,40,60,70,90,100],"labels":false,"domain":false,"title":null,"offset":11,"tickSize":12}},
    "color":{"field":"y","type":"nominal","scale":{"domain":[2025,2024,2023,2022,2021,2020],"range":["#FF2A2A","#D0ACF5","#10B0F5","#3CB371","#F5C200","#3A3A3A"]},"legend":null}}}
 ]},
{"width":253,"height":225,"title":{"text":"PO1-7","offset":-40},
 "resolve":{"axis":{"y":"independent"}},
 "layer":[
  {"data":{"values":[{"a":15.5,"b":21.5,"lo":0,"hi":9}]},"mark":{"type":"rect","color":"#BDEAD1"},
   "encoding":{
    "x":{"field":"a","type":"quantitative","scale":{"domain":[1,53],"nice":false,"zero":false},"axis":{"title":"Uke","values":[10,20,30,40,50],"offset":8,"tickSize":13,"labelPadding":34,"labelBaseline":"alphabetic","labelOverlap":false,"titleY":82,"titleBaseline":"alphabetic"}},
    "x2":{"field":"b"},
    "y":{"field":"lo","type":"quantitative","scale":{"domain":[0,9.33],"nice":false},"axis":{"orient":"left","title":"Larveutslipp (mrd. per dag)","values":[0,2,4,6,8],"labelOverlap":false,"offset":11,"tickSize":12,"labelAngle":270,"labelAlign":"center","labelBaseline":"alphabetic","labelPadding":15,"titleAngle":270,"titleX":-66.5,"titleY":117,"titleAlign":"center","titleBaseline":"alphabetic"}},
    "y2":{"field":"hi"}}},
  {"data":{"name":"ll"},"mark":{"type":"line","strokeWidth":1},
   "encoding":{"x":{"field":"w","type":"quantitative"},"y":{"field":"v","type":"quantitative","axis":{"orient":"left","values":[1,3,5,7,9],"labels":false,"domain":false,"title":null,"offset":11,"tickSize":12}},
    "color":{"field":"y","type":"nominal","scale":{"domain":[2025,2024,2023,2022,2021,2020],"range":["#FF2A2A","#D0ACF5","#10B0F5","#3CB371","#F5C200","#3A3A3A"]},"legend":null}}}
 ]},
{"width":253,"height":225,"title":{"text":"PO8-13","offset":-40},
 "resolve":{"axis":{"y":"independent"}},
 "layer":[
  {"data":{"values":[{"a":20.5,"b":26.5,"lo":0,"hi":9}]},"mark":{"type":"rect","color":"#BDEAD1"},
   "encoding":{
    "x":{"field":"a","type":"quantitative","scale":{"domain":[1,53],"nice":false,"zero":false},"axis":{"title":"Uke","values":[10,20,30,40,50],"offset":8,"tickSize":13,"labelPadding":34,"labelBaseline":"alphabetic","labelOverlap":false,"titleY":82,"titleBaseline":"alphabetic"}},
    "x2":{"field":"b"},
    "y":{"field":"lo","type":"quantitative","scale":{"domain":[0,9.33],"nice":false},"axis":{"orient":"left","title":"Larveutslipp (mrd. per dag)","values":[0,2,4,6,8],"labelOverlap":false,"offset":11,"tickSize":12,"labelAngle":270,"labelAlign":"center","labelBaseline":"alphabetic","labelPadding":15,"titleAngle":270,"titleX":-66.5,"titleY":117,"titleAlign":"center","titleBaseline":"alphabetic"}},
    "y2":{"field":"hi"}}},
  {"data":{"name":"lr"},"mark":{"type":"line","strokeWidth":1},
   "encoding":{"x":{"field":"w","type":"quantitative"},"y":{"field":"v","type":"quantitative","axis":{"orient":"left","values":[1,3,5,7,9],"labels":false,"domain":false,"title":null,"offset":11,"tickSize":12}},
    "color":{"field":"y","type":"nominal","scale":{"domain":[2025,2024,2023,2022,2021,2020],"range":["#FF2A2A","#D0ACF5","#10B0F5","#3CB371","#F5C200","#3A3A3A"]},
     "legend":{"title":null,"orient":"none","legendX":13,"legendY":14,"symbolType":"stroke","symbolSize":900,"symbolStrokeWidth":1,"labelFontSize":21,"labelFont":"Liberation Sans","labelColor":"#000","labelOffset":22,"rowPadding":0,"padding":0}}}}
 ]}
]
}
